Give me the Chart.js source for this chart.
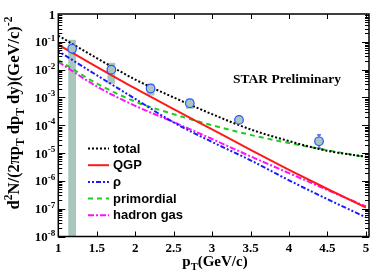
<!DOCTYPE html>
<html>
<head>
<meta charset="utf-8">
<script src="https://cdn.jsdelivr.net/npm/chart.js@4.4.0/dist/chart.umd.min.js"></script>
<style>
  html, body { margin: 0; padding: 0; background: #fff; }
  canvas { display: block; }
</style>
</head>
<body>
<canvas id="spectrum" width="390" height="280"></canvas>
<script>
// model curves at pT = 1, 1.5, ... 5 GeV/c
const ptGrid = [1, 1.5, 2, 2.5, 3, 3.5, 4, 4.5, 5];
const totalYield = [1.66e-1, 2.6e-2, 4.4e-3, 1.0e-3, 2.5e-4, 7.1e-5, 2.7e-5, 1.2e-5, 7.4e-6];
const qgpYield = [7.9e-2, 1.26e-2, 2.1e-3, 3.8e-4, 7.1e-5, 1.3e-5, 2.5e-6, 5.1e-7, 1.1e-7];
const rhoYield = [4.6e-2, 6.3e-3, 8.9e-4, 1.26e-4, 2.5e-5, 5.5e-6, 1.05e-6, 2.2e-7, 4.9e-8];
const primordialYield = [2.2e-2, 3.2e-3, 7.1e-4, 2.5e-4, 1.0e-4, 4.5e-5, 2.3e-5, 1.26e-5, 7.1e-6];
const hadronGasYield = [1.9e-2, 2.5e-3, 5.0e-4, 1.3e-4, 3.2e-5, 7.6e-6, 1.9e-6, 4.7e-7, 1.2e-7];

// STAR preliminary points
const starPt = [1.18, 1.69, 2.20, 2.71, 3.35, 4.39];
const starYield = [5.6e-2, 1.0e-2, 2.1e-3, 6.2e-4, 1.56e-4, 2.65e-5];
const statLow = [null, null, null, null, null, 1.5e-5];
const statHigh = [null, null, null, null, null, 4.5e-5];
const sysLow = [1e-9, 3.1e-3, 1.17e-3, 3.9e-4, 1.3e-4, 2.3e-5];
const sysHigh = [1.18e-1, 1.75e-2, 3.1e-3, 8.9e-4, 1.9e-4, 3.1e-5];
const sysHalfWidth = 0.05;

const xTickValues = [1, 1.5, 2, 2.5, 3, 3.5, 4, 4.5, 5];
const xTickLabels = ['1', '1.5', '2', '2.5', '3', '3.5', '4', '4.5', '5'];
const yTickValues = [1e-8, 1e-7, 1e-6, 1e-5, 1e-4, 1e-3, 1e-2, 1e-1, 1];
const yTickExponents = ['-8', '-7', '-6', '-5', '-4', '-3', '-2', '-1', ''];

const serif = '"Liberation Serif", "Times New Roman", serif';
const sans = '"Liberation Sans", Arial, sans-serif';
const boxColor = 'rgb(168,200,190)';

function toXY(xs, ys) {
    return xs.map((x, i) => ({ x: x, y: ys[i] }));
}

function richWidth(ctx, segs, size) {
    return segs.map(s => {
        ctx.font = 'bold ' + (s.s ? size * 0.7 : size) + 'px ' + serif;
        return ctx.measureText(s.t).width;
    });
}

// draw text with sub/superscripts starting at (x, y) baseline
function drawRichAt(ctx, segs, x, y, size) {
    let widths = richWidth(ctx, segs, size);
    let cx = x;
    ctx.textAlign = 'left';
    ctx.textBaseline = 'alphabetic';
    segs.forEach((s, i) => {
        ctx.font = 'bold ' + (s.s ? size * 0.7 : size) + 'px ' + serif;
        let dy = s.s === 'sup' ? -size * 0.42 : (s.s === 'sub' ? size * 0.28 : 0);
        ctx.fillText(s.t, cx, y + dy);
        cx += widths[i];
    });
    return cx - x;
}

function drawRich(ctx, segs, x, y, size) {
    let total = richWidth(ctx, segs, size).reduce((a, b) => a + b, 0);
    drawRichAt(ctx, segs, x - total / 2, y, size);
}

const decorations = {
    id: 'decorations',
    beforeDatasetsDraw(chart) {
        let ctx = chart.ctx, a = chart.chartArea;
        let xs = chart.scales.x, ys = chart.scales.y;
        ctx.save();
        ctx.beginPath();
        ctx.rect(a.left, a.top, a.right - a.left, a.bottom - a.top);
        ctx.clip();
        ctx.fillStyle = boxColor;
        for (let i = 0; i < starPt.length; i++) {
            let x0 = xs.getPixelForValue(starPt[i] - sysHalfWidth);
            let x1 = xs.getPixelForValue(starPt[i] + sysHalfWidth);
            let y0 = ys.getPixelForValue(sysHigh[i]);
            let y1 = ys.getPixelForValue(sysLow[i]);
            ctx.fillRect(x0, y0, x1 - x0, y1 - y0);
        }
        ctx.strokeStyle = '#3050ff';
        ctx.lineWidth = 1.2;
        for (let i = 0; i < starPt.length; i++) {
            if (statLow[i] == null) continue;
            let px = xs.getPixelForValue(starPt[i]);
            let y0 = ys.getPixelForValue(statHigh[i]);
            let y1 = ys.getPixelForValue(statLow[i]);
            ctx.beginPath();
            ctx.moveTo(px, y0); ctx.lineTo(px, y1);
            ctx.moveTo(px - 2, y0); ctx.lineTo(px + 2, y0);
            ctx.moveTo(px - 2, y1); ctx.lineTo(px + 2, y1);
            ctx.stroke();
        }
        ctx.restore();
    },
    afterDraw(chart) {
        let ctx = chart.ctx, a = chart.chartArea;
        let xs = chart.scales.x, ys = chart.scales.y;
        ctx.save();
        // frame
        ctx.strokeStyle = '#000';
        ctx.lineWidth = 1.5;
        ctx.strokeRect(a.left, a.top, a.right - a.left, a.bottom - a.top);
        // inward ticks
        ctx.lineWidth = 1;
        ctx.beginPath();
        xTickValues.forEach(v => {
            let px = Math.round(xs.getPixelForValue(v)) + 0.5;
            ctx.moveTo(px, a.bottom); ctx.lineTo(px, a.bottom - 5);
            ctx.moveTo(px, a.top); ctx.lineTo(px, a.top + 5);
        });
        for (let d = -8; d < 0; d++) {
            for (let k = 1; k <= 9; k++) {
                let py = Math.round(ys.getPixelForValue(k * Math.pow(10, d))) + 0.5;
                let len = k === 1 ? 7 : 4;
                ctx.moveTo(a.left, py); ctx.lineTo(a.left + len, py);
                ctx.moveTo(a.right, py); ctx.lineTo(a.right - len, py);
            }
        }
        ctx.stroke();

        // y tick labels: 10 with a raised exponent
        ctx.fillStyle = '#000';
        ys.ticks.forEach((t, i) => {
            let py = ys.getPixelForValue(t.value) + 4.5;
            let segs = yTickExponents[i] ? [{ t: '10' }, { t: yTickExponents[i], s: 'sup' }] : [{ t: '1' }];
            let w = richWidth(ctx, segs, 13).reduce((p, q) => p + q, 0);
            drawRichAt(ctx, segs, a.left - 3 - w, py, 13);
        });

        // legend inside the plot
        let rowY = 148.5;
        chart.data.datasets.forEach(ds => {
            if (!ds.inLegend) return;
            ctx.strokeStyle = ds.borderColor;
            ctx.lineWidth = 2;
            ctx.setLineDash(ds.borderDash || []);
            ctx.beginPath();
            ctx.moveTo(88, rowY); ctx.lineTo(109, rowY);
            ctx.stroke();
            ctx.setLineDash([]);
            ctx.fillStyle = '#000';
            ctx.font = 'bold 13px ' + sans;
            ctx.textAlign = 'left';
            ctx.textBaseline = 'middle';
            ctx.fillText(ds.label, 113, rowY + 0.5);
            rowY += 16.7;
        });

        // label
        ctx.fillStyle = '#000';
        ctx.font = 'bold 13.5px ' + serif;
        ctx.textAlign = 'center';
        ctx.textBaseline = 'alphabetic';
        ctx.fillText('STAR Preliminary', 287, 83);

        // axis titles
        drawRich(ctx, [{ t: 'p' }, { t: 'T', s: 'sub' }, { t: '(GeV/c)' }], 215, 266, 15);
        ctx.translate(19, 113);
        ctx.rotate(-Math.PI / 2);
        drawRich(ctx, [
            { t: 'd' }, { t: '2', s: 'sup' }, { t: 'N/(2πp' }, { t: 'T', s: 'sub' },
            { t: ' dp' }, { t: 'T', s: 'sub' }, { t: ' dy)(GeV/c)' }, { t: '-2', s: 'sup' }
        ], 0, 0, 16.5);
        ctx.restore();
    }
};

function curve(label, ys, color, dash) {
    return {
        label: label,
        data: toXY(ptGrid, ys),
        borderColor: color,
        borderWidth: 2,
        borderDash: dash,
        pointRadius: 0,
        cubicInterpolationMode: 'monotone',
        fill: false,
        inLegend: true
    };
}

new Chart(document.getElementById('spectrum'), {
    type: 'line',
    data: {
        datasets: [
            {
                label: 'STAR',
                data: toXY(starPt, starYield),
                showLine: false,
                pointRadius: 4.3,
                pointBorderWidth: 1.2,
                pointBorderColor: '#3050ff',
                pointBackgroundColor: boxColor,
                borderColor: '#3050ff'
            },
            curve('total', totalYield, '#000000', [2, 2]),
            curve('QGP', qgpYield, '#ff1a1a', []),
            curve('ρ', rhoYield, '#1a1aff', [2, 2, 2, 2, 5, 2]),
            curve('primordial', primordialYield, '#1fcc1f', [5, 4]),
            curve('hadron gas', hadronGasYield, '#ff10ff', [6, 2, 2, 2])
        ]
    },
    options: {
        responsive: false,
        animation: false,
        devicePixelRatio: 1,
        layout: { padding: { top: 14, right: 21, left: 0, bottom: 0 } },
        plugins: { legend: { display: false }, tooltip: { enabled: false } },
        scales: {
            x: {
                type: 'linear',
                min: 1,
                max: 5.04,
                grid: { display: false, drawTicks: false },
                border: { display: false },
                afterBuildTicks: s => { s.ticks = xTickValues.map(v => ({ value: v })); },
                afterFit: s => { s.height = 43.5; },
                ticks: {
                    autoSkip: false,
                    maxRotation: 0,
                    padding: 4,
                    color: '#000',
                    font: { family: serif, size: 13, weight: 'bold' },
                    callback: (v, i) => xTickLabels[i]
                }
            },
            y: {
                type: 'logarithmic',
                min: 1e-8,
                max: 1,
                grid: { display: false, drawTicks: false },
                border: { display: false },
                afterBuildTicks: s => { s.ticks = yTickValues.map(v => ({ value: v })); },
                afterFit: s => { s.width = 58.3; },
                ticks: { display: false }
            }
        }
    },
    plugins: [decorations]
});
</script>
</body>
</html>
